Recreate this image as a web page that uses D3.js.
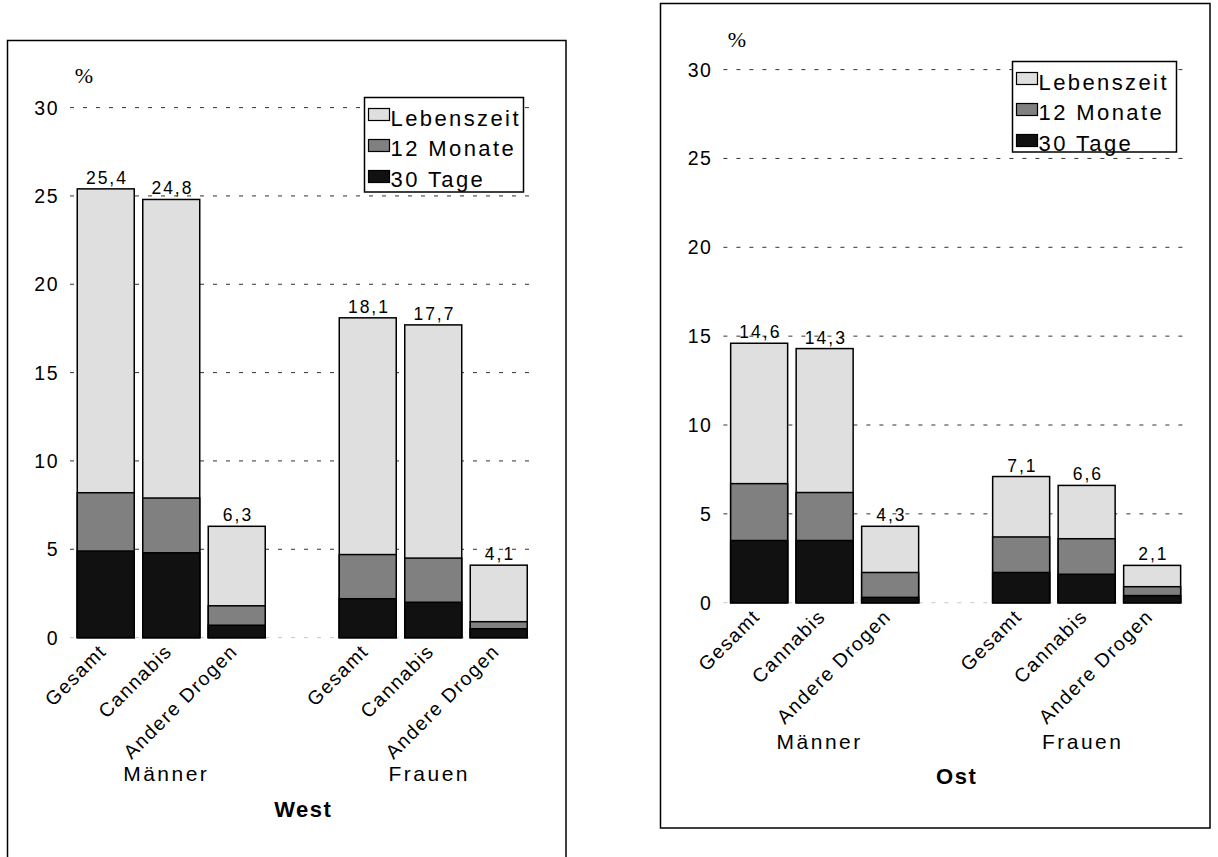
<!DOCTYPE html>
<html><head><meta charset="utf-8">
<script src="https://cdn.jsdelivr.net/npm/d3@7"></script>
<style>
html,body{margin:0;padding:0;background:#fff;}
svg{display:block;}
text{font-family:"Liberation Sans",Arial,sans-serif;fill:#000;}
</style></head>
<body>
<svg id="chart" width="1218" height="857"></svg>
<script>
// ---- data ----
const categories = ["Gesamt", "Cannabis", "Andere Drogen"];
const groups = ["Männer", "Frauen"];
const seriesNames = ["Lebenszeit", "12 Monate", "30 Tage"];
const westLebenszeit = [25.4, 24.8, 6.3, 18.1, 17.7, 4.1];
const west12Monate   = [8.2, 7.9, 1.8, 4.7, 4.5, 0.9];
const west30Tage     = [4.9, 4.8, 0.7, 2.2, 2.0, 0.5];
const ostLebenszeit  = [14.6, 14.3, 4.3, 7.1, 6.6, 2.1];
const ost12Monate    = [6.7, 6.2, 1.7, 3.7, 3.6, 0.9];
const ost30Tage      = [3.5, 3.5, 0.3, 1.7, 1.6, 0.4];
const yTicks = [0, 5, 10, 15, 20, 25, 30];
const yTickLabels = ["0", "5", "10", "15", "20", "25", "30"];
const titles = ["West", "Ost"];

const colors = ["#dfdfdf", "#808080", "#111111"];
const svg = d3.select("#chart");

// slots: 3 bars, empty gap slot, 3 bars
const slots = ["M0", "M1", "M2", "gap", "F0", "F1", "F2"];
const barSlots = ["M0", "M1", "M2", "F0", "F1", "F2"];

const panels = [
  {title: titles[0], series: [westLebenszeit, west12Monate, west30Tage],
   frame: {x: 7.5, y: 40.5, w: 558.5, h: 840},
   x0: 73, x1: 531.5, yBottom: 637.6, yTop: 107.6,
   pct: [84, 83], legend: {x: 364.5, y: 97.5, w: 159, h: 94.5},
   groupY: 781, titleY: 817},
  {title: titles[1], series: [ostLebenszeit, ost12Monate, ost30Tage],
   frame: {x: 660.5, y: 3.5, w: 549.5, h: 824.5},
   x0: 726.4, x1: 1184.9, yBottom: 602.7, yTop: 69.6,
   pct: [737, 47], legend: {x: 1012.5, y: 61.5, w: 164, h: 90.5},
   groupY: 749, titleY: 784}
];

function fmt(v) { return d3.format(".1f")(v).replace(".", ","); }

panels.forEach(p => {
  const g = svg.append("g");
  // frame
  g.append("rect").attr("x", p.frame.x).attr("y", p.frame.y)
    .attr("width", p.frame.w).attr("height", p.frame.h)
    .attr("fill", "none").attr("stroke", "#000").attr("stroke-width", 1.5);

  const x = d3.scaleBand().domain(slots).range([p.x0, p.x1])
    .paddingInner(0.13).paddingOuter(0.065);
  const y = d3.scaleLinear().domain([0, 30]).range([p.yBottom, p.yTop]);

  // gridlines
  g.selectAll("line.grid").data(yTicks).join("line")
    .attr("x1", p.x0 - 3).attr("x2", p.x1 + 6)
    .attr("y1", d => y(d)).attr("y2", d => y(d))
    .attr("stroke", d => d === 0 ? "#c8c8c8" : "#333")
    .attr("stroke-width", 1)
    .attr("stroke-dasharray", "4,9");

  // y tick labels
  g.selectAll("text.ytick").data(yTicks).join("text")
    .attr("x", p.x0 - 14).attr("y", d => y(d) + 7)
    .attr("text-anchor", "end")
    .attr("font-size", 19.5).attr("letter-spacing", 1.5)
    .text((d, i) => yTickLabels[i]);

  // % label
  g.append("text").attr("x", p.pct[0]).attr("y", p.pct[1])
    .attr("text-anchor", "middle").attr("font-size", 22)
    .style("font-family", "'Liberation Serif','Times New Roman',serif")
    .text("%");

  // bars: each series drawn from zero, overlapping
  p.series.forEach((vals, si) => {
    g.selectAll("rect.s" + si).data(vals).join("rect")
      .attr("x", (d, i) => x(barSlots[i]))
      .attr("width", x.bandwidth())
      .attr("y", d => y(d))
      .attr("height", d => y(0) - y(d))
      .attr("fill", colors[si])
      .attr("stroke", "#000").attr("stroke-width", 1.5);
  });

  // value labels
  g.selectAll("text.val").data(p.series[0]).join("text")
    .attr("x", (d, i) => x(barSlots[i]) + x.bandwidth() / 2 + 1.2)
    .attr("y", d => y(d) - 5)
    .attr("text-anchor", "middle")
    .attr("font-size", 17.5).attr("letter-spacing", 2)
    .text(d => fmt(d));

  // category labels rotated
  g.selectAll("text.cat").data(barSlots).join("text")
    .attr("transform", (d, i) => {
      const cx = x(d) + x.bandwidth() / 2 + 2;
      const cy = y(0) + 15;
      return `translate(${cx},${cy}) rotate(-45)`;
    })
    .attr("text-anchor", "end")
    .attr("font-size", 19.5).attr("letter-spacing", 1.5)
    .text((d, i) => categories[i % 3]);

  // group labels
  groups.forEach((gr, gi) => {
    const a = x(barSlots[gi * 3]), b = x(barSlots[gi * 3 + 2]) + x.bandwidth();
    g.append("text").attr("x", (a + b) / 2 - 4 + (gi === 0 ? -1 : 0))
      .attr("y", p.groupY)
      .attr("text-anchor", "middle")
      .attr("font-size", 21).attr("letter-spacing", 2.5)
      .text(gr);
  });

  // title
  g.append("text").attr("x", (p.x0 + p.x1) / 2 + 1).attr("y", p.titleY)
    .attr("text-anchor", "middle")
    .attr("font-size", 22).attr("font-weight", "bold").attr("letter-spacing", 1.5)
    .text(p.title);

  // legend
  const L = p.legend;
  const lg = g.append("g");
  lg.append("rect").attr("x", L.x).attr("y", L.y).attr("width", L.w).attr("height", L.h)
    .attr("fill", "#fff").attr("stroke", "#000").attr("stroke-width", 1.5);
  seriesNames.forEach((s, i) => {
    lg.append("rect").attr("x", L.x + 4).attr("y", L.y + 11 + i * 31)
      .attr("width", 21).attr("height", 12)
      .attr("fill", colors[i]).attr("stroke", "#000").attr("stroke-width", 1.2);
    lg.append("text").attr("x", L.x + 26).attr("y", L.y + 28 + i * 30.5)
      .attr("font-size", 22).attr("letter-spacing", 2.4)
      .text(s);
  });
});
</script>
</body></html>
